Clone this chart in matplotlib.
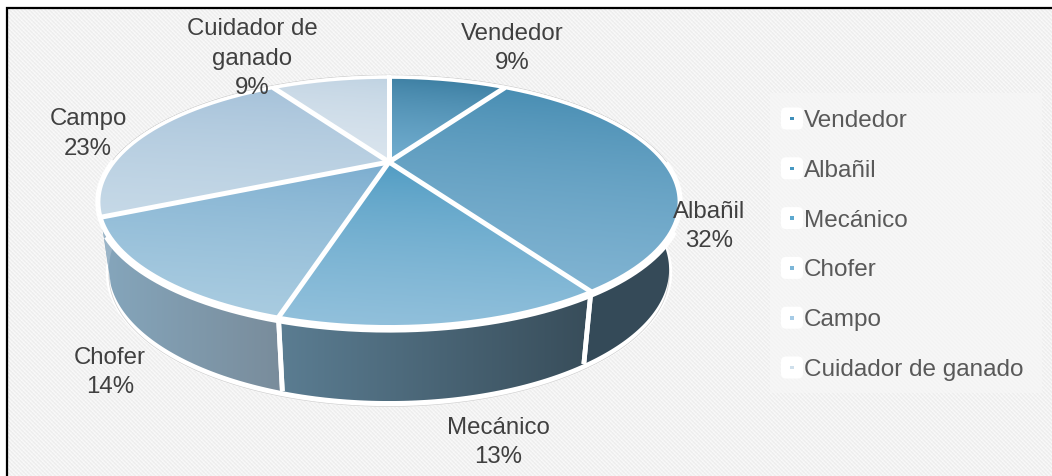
import numpy as np
import matplotlib
matplotlib.use("Agg")
import matplotlib.pyplot as plt
from matplotlib.colors import LinearSegmentedColormap
from matplotlib.patches import Polygon, FancyBboxPatch, Rectangle

plt.rcParams['font.family'] = ['Liberation Sans', 'DejaVu Sans']

categories = ['Vendedor', 'Albañil', 'Mecánico', 'Chofer', 'Campo', 'Cuidador de ganado']
label_text = ['Vendedor', 'Albañil', 'Mecánico', 'Chofer', 'Campo', 'Cuidador de\nganado']
shares = [9, 32, 13.49, 13.51, 23, 9]

top_start = ['#2e7296', '#3a84ab', '#4093bd', '#75a9cd', '#9fbdd7', '#bdd1e1']
top_end = ['#72aed0', '#84b6d4', '#93c1dc', '#abcde1', '#c6d9e7', '#dce6ef']
side_start = ['#35495a', '#33495a', '#5b7d92', '#85a6bc', '#9bb5c8', '#b0c4d4']
side_end = ['#35495a', '#364b58', '#384d5a', '#798c9b', '#90a7b8', '#a5b9c9']
legend_colors = ['#3f8fba', '#4798c2', '#5ca8cf', '#7cb6d8', '#a6cbe6', '#cfdfeb']

W, H = 1052, 477
fig = plt.figure(figsize=(W / 100, H / 100), dpi=100)
ax = fig.add_axes([0, 0, 1, 1])
ax.set_xlim(0, W)
ax.set_ylim(H, 0)
ax.axis('off')

# textured background
yy, xx = np.mgrid[0:H, 0:W]
tex = np.where((xx - yy) % 4 < 2, 0.962, 0.93)
tex = tex + np.where((xx + yy) % 6 == 0, 0.012, 0)
tex[:, :6] = 1
tex[:8, :] = 1
ax.imshow(tex, cmap='gray', vmin=0, vmax=1, extent=(0, W, H, 0), zorder=0,
          interpolation='nearest', aspect='auto')
ax.plot([6.5, 6.5, W], [H, 8.5, 8.5], color='black', lw=1.6, zorder=1,
        solid_joinstyle='miter')

# perspective projection of the pie disc
CX, CY = 389, 163
A, B, K = 275, 112, 0.32


def rim(theta, scale=1.0, cy=CY, b=B):
    x, y = np.sin(theta), np.cos(theta)
    den = 1 + K * y
    return CX + scale * A * x / den, cy - b * y / den


def bottom(theta):
    return rim(theta, scale=0.965, cy=228.5, b=118)


def gradient_fill(poly, start, end, horizontal=False, z=3, power=1.0):
    x0, y0 = poly.min(axis=0)
    x1, y1 = poly.max(axis=0)
    n = 128
    u, v = np.meshgrid(np.linspace(0, 1, n), np.linspace(0, 1, n))
    g = u if horizontal else np.clip(0.9 * v + 0.1 * (1 - u), 0, 1) ** power
    cmap = LinearSegmentedColormap.from_list('g', [start, end])
    im = ax.imshow(g, cmap=cmap, vmin=0, vmax=1, extent=(x0, x1, y1, y0),
                   zorder=z, aspect='auto', interpolation='bilinear')
    patch = Polygon(poly, closed=True, transform=ax.transData, fc='none', ec='none')
    ax.add_patch(patch)
    im.set_clip_path(patch)


edges = 2 * np.pi * np.concatenate([[0], np.cumsum(shares)]) / np.sum(shares)
full = np.linspace(0, 2 * np.pi, 720)

# thin grey silhouette and white halo below everything
th_low = np.linspace(np.pi / 2 - 0.1, 3 * np.pi / 2 + 0.1, 300)
bx, by = bottom(th_low)
ax.plot(bx, by + 3, color='white', lw=4.5, zorder=2, solid_capstyle='round')
ax.plot(bx, by + 5.5, color='#cfcfcf', lw=0.5, zorder=2)
ax.fill(*rim(full), fc='white', ec='#c8c8c8', lw=3.4, zorder=2)
ax.plot(*rim(full), color='white', lw=2.6, zorder=2.2)

# side walls
for i in range(len(shares)):
    a, b = edges[i], edges[i + 1]
    t = np.linspace(a, b, 160)
    x1, y1 = rim(t)
    x2, y2 = bottom(t)
    poly = np.column_stack([np.r_[x1, x2[::-1]], np.r_[y1, y2[::-1]]])
    if np.all(np.cos(t) > 0.25):
        continue
    gradient_fill(poly, side_start[i], side_end[i], horizontal=True, z=2.5)
    for e in (a, b):
        if 2.0 < e < 4.0:
            xa, ya = rim(e)
            xb, yb = bottom(e)
            ax.plot([xa, xb], [ya, yb], color='white', lw=3.4, zorder=2.7,
                    solid_capstyle='butt')

# white band beneath the lit surface
ax.plot(*rim(full[(full > 2.1) & (full < 4.15)]), color='white', lw=8.5, zorder=2.8,
        solid_capstyle='butt')
ax.plot(*rim(full[(full > 1.6) & (full < 4.7)]), color='white', lw=5, zorder=2.8)

# top surface
for i in range(len(shares)):
    t = np.linspace(edges[i], edges[i + 1], 160)
    x, y = rim(t)
    poly = np.column_stack([np.r_[CX, x], np.r_[CY, y]])
    gradient_fill(poly, top_start[i], top_end[i], z=3, power=0.6)
ax.plot(*rim(full), color='white', lw=2.4, zorder=3.2)
for e in edges[:-1]:
    x, y = rim(e)
    ax.plot([CX, x], [CY, y], color='white', lw=3.6, zorder=3.4, solid_capstyle='butt')

# data labels
label_pos = [(512, 48.5), (709, 226.5), (498, 442.5), (110, 372.5), (88, 134), (252, 58.5)]
total = np.sum(shares)
for name, val, (lx, ly) in zip(label_text, shares, label_pos):
    ax.text(lx, ly, f'{name}\n{val / total * 100:.0f}%', ha='center', va='center',
            fontsize=17.3, color='#404040', linespacing=1.42, zorder=6)

# legend
ax.add_patch(Rectangle((770, 94), 272, 300, fc='#f6f6f6', ec='none', alpha=0.7, zorder=4))
for i, (name, col) in enumerate(zip(categories, legend_colors)):
    yc = 119.5 + i * 49.8
    ax.add_patch(FancyBboxPatch((784, yc - 8), 16, 16, boxstyle='round,pad=3,rounding_size=5',
                                fc='white', ec='none', zorder=5))
    ax.add_patch(Rectangle((790.3, yc - 1.8), 3.6, 3.6, fc=col, ec='none', zorder=6))
    ax.text(803.5, yc + 1.5, name, ha='left', va='center', fontsize=17.5,
            color='#595959', zorder=6)

fig.savefig('out.png', dpi=100)
